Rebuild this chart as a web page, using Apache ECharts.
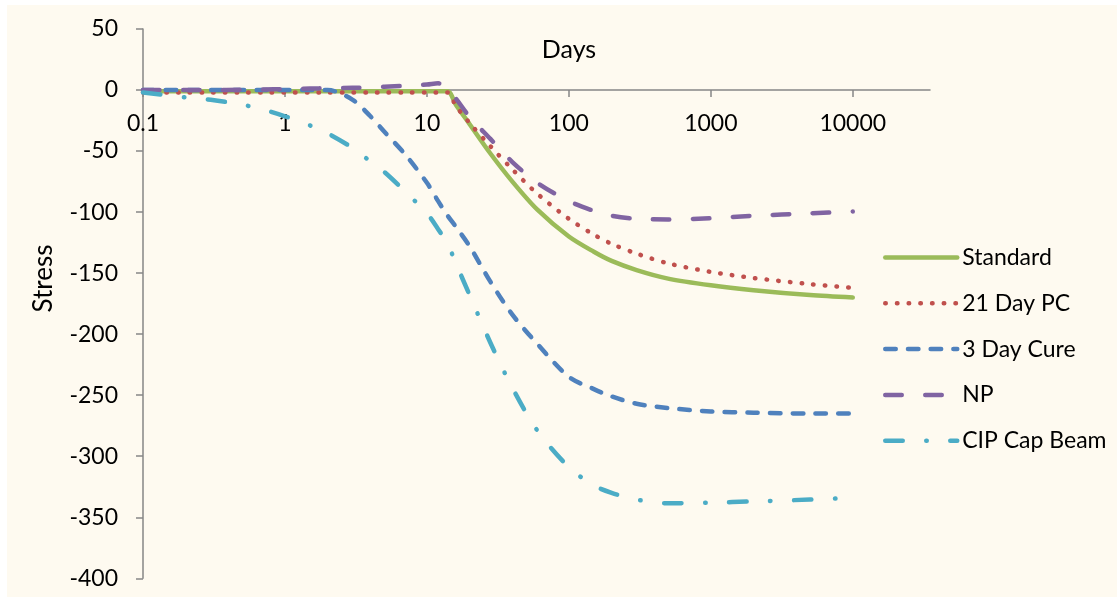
<!DOCTYPE html>
<html><head><meta charset="utf-8">
<script src="https://cdn.jsdelivr.net/npm/echarts@6/dist/echarts.min.js"></script>
<style>
html,body{margin:0;padding:0;background:#ffffff;width:1117px;height:597px;overflow:hidden}
#c{position:absolute;left:7px;top:5px;width:1110px;height:592px;background:#FEFAF0}
</style>
</head><body><div id="c"></div>
<script>
// ---- data ----
const days = [0.1, 0.2, 0.3, 0.5, 0.7, 1, 1.5, 2, 3, 4, 5, 7, 10, 12, 14, 16, 20, 28, 40, 60, 100, 150, 200, 300, 500, 1000, 2000, 5000, 10000];
const standard = [-1, -1, -1, -1, -1, -1, -1, -1, -1, -1, -1, -1, -1, -1, -1, -12, -28, -52, -75, -98, -120, -132.5, -140, -147.5, -154.5, -160, -164, -168, -170];
const pc21 = [-2, -2, -2, -2, -2, -2, -2, -2, -2, -2, -2, -2, -2, -2, -2, -13, -27, -46, -65, -85, -105.5, -118.5, -126, -134, -142, -149, -154, -159, -162];
const cure3 = [0, 0, 0, 0, 0, 0, 0, 0, -8, -21.5, -34, -52.5, -76, -91, -103, -112, -128, -157, -184, -208, -235, -245, -251, -257, -260.5, -263.3, -264.3, -265, -265];
const np = [0, 0, 0, 0.3, 0.5, 0.8, 1.2, 1.5, 1.8, 2.2, 2.7, 3.5, 4.5, 5.5, 1, -7, -22, -40, -59, -76, -91, -99, -103, -105.5, -106, -105, -103, -101, -99.5];
const cip = [-2, -6, -8, -12, -16, -21.5, -29, -35.5, -47.5, -58.5, -67, -83, -101, -114, -126, -142, -168, -207, -244, -279, -309, -324, -330, -335.5, -338.5, -338, -337, -335.5, -334];
const seriesNames = ['Standard', '21 Day PC', '3 Day Cure', 'NP', 'CIP Cap Beam'];
const xTickValues = [0.1, 1, 10, 100, 1000, 10000];
const xMin = 0.1, xMax = 35000;
const yMin = -400, yMax = 50, yStep = 50;
const xAxisName = 'Days';
const yAxisName = 'Stress';

// ---- styles ----
const FONT = 'Lato';
const colors = ['#9BBB59', '#C0504D', '#4F81BD', '#8064A2', '#4BACC6'];
const W = 4.5;
const dashes = ['solid', [0.5, 11.2], [10.5, 12.2], [16.5, 23.5], [17.5, 23.5, 0.5, 23.5]];
const values = [standard, pc21, cure3, np, cip];
const AX = '#868686';

const chart = echarts.init(document.getElementById('c'), null, {renderer: 'canvas'});
const series = values.map((vals, i) => ({
  name: seriesNames[i],
  type: 'line',
  xAxisIndex: 0, yAxisIndex: 0,
  data: days.map((d, k) => [d, vals[k]]),
  showSymbol: false,
  symbol: 'none',
  smooth: 0.3,
  color: colors[i],
  lineStyle: {color: colors[i], width: W, type: dashes[i], cap: 'round', join: 'round'},
  emphasis: {disabled: true},
  animation: false
}));

// plot area: page x 143..930, page y 29..578.3 ; the zero line (page y 90) carries the x axis
const gridLeft = 136, gridRight = 187, gridTop = 24, gridBottom = 18.7;
const zeroY = gridTop + (592 - gridTop - gridBottom) * (yMax - 0) / (yMax - yMin);

chart.setOption({
  animation: false,
  grid: [
    {left: gridLeft, right: gridRight, top: gridTop, bottom: gridBottom, containLabel: false, outerBoundsMode: 'none'},
    {left: gridLeft, right: gridRight, top: gridTop, height: zeroY - gridTop, containLabel: false, outerBoundsMode: 'none'}
  ],
  xAxis: [
    {gridIndex: 0, type: 'log', logBase: 10, min: xMin, max: xMax, show: false},
    {
      gridIndex: 1, type: 'log', logBase: 10, min: xMin, max: xMax, position: 'bottom',
      axisLine: {show: true, onZero: false, lineStyle: {color: AX, width: 1.5}},
      axisTick: {show: true, inside: false, length: 7, customValues: xTickValues, lineStyle: {color: AX, width: 1.5}},
      axisLabel: {
        customValues: xTickValues, margin: 22, color: '#000', fontSize: 23, fontFamily: FONT,
        formatter: v => (v < 1 ? v.toFixed(1) : String(Math.round(v)))
      },
      splitLine: {show: false}, minorTick: {show: false}
    }
  ],
  yAxis: [
    {
      gridIndex: 0, type: 'value', min: yMin, max: yMax, interval: yStep,
      axisLine: {show: true, onZero: false, lineStyle: {color: AX, width: 1.5}},
      axisTick: {show: true, inside: false, length: 7, lineStyle: {color: AX, width: 1.5}},
      axisLabel: {margin: 25, color: '#000', fontSize: 23, fontFamily: FONT},
      splitLine: {show: false}
    },
    {gridIndex: 1, type: 'value', min: 0, max: 1, show: false}
  ],
  legend: {
    orient: 'vertical', left: 876, top: 241, padding: 0,
    itemWidth: 72, itemHeight: 20, itemGap: 22.8,
    itemStyle: {opacity: 0, color: 'transparent', borderWidth: 0},
    lineStyle: {width: W, cap: 'round'},
    textStyle: {color: '#000', fontSize: 23, fontFamily: FONT},
    data: seriesNames
  },
  graphic: [
    {type: 'text', x: 562, y: 44.5, style: {text: xAxisName, fill: '#000', font: '25px ' + FONT, align: 'center', verticalAlign: 'middle'}},
    {type: 'text', x: 37, y: 273.5, rotation: Math.PI / 2, style: {text: yAxisName, fill: '#000', font: '26px ' + FONT, align: 'center', verticalAlign: 'middle'}}
  ],
  series: series
});
</script>
</body></html>
